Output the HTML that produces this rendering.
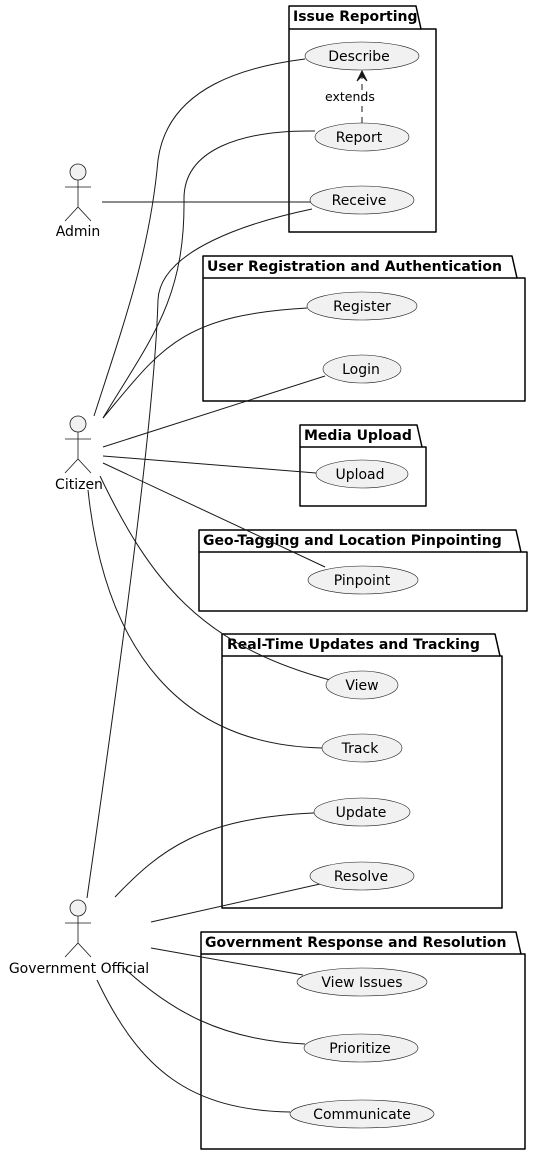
<!DOCTYPE html>
<html><head><meta charset="utf-8"><style>
html,body{margin:0;padding:0;background:#fff;}
svg{display:block;font-family:"DejaVu Sans","Liberation Sans",sans-serif;}
</style></head><body>
<svg width="533" height="1155" viewBox="0 0 533 1155" xmlns="http://www.w3.org/2000/svg">
<g fill="none" stroke="#000" stroke-width="1.5" stroke-linejoin="round">
<path d="M289,29 L289,6 L416,6 L421,29 L436,29 L436,232 L289,232 Z"/>
<line x1="289" y1="29" x2="421" y2="29"/>
<path d="M203,278 L203,256 L512,256 L517,278 L525,278 L525,401 L203,401 Z"/>
<line x1="203" y1="278" x2="517" y2="278"/>
<path d="M300,447 L300,425 L417,425 L422,447 L426,447 L426,506 L300,506 Z"/>
<line x1="300" y1="447" x2="422" y2="447"/>
<path d="M199,552 L199,530 L516,530 L521,552 L527,552 L527,611 L199,611 Z"/>
<line x1="199" y1="552" x2="521" y2="552"/>
<path d="M222,656 L222,634 L495,634 L500,656 L502,656 L502,908 L222,908 Z"/>
<line x1="222" y1="656" x2="500" y2="656"/>
<path d="M201,954 L201,932 L516,932 L521,954 L525,954 L525,1149 L201,1149 Z"/>
<line x1="201" y1="954" x2="521" y2="954"/>
</g>
<g font-weight="bold" font-size="14" fill="#000">
<text x="293" y="21">Issue Reporting</text>
<text x="207" y="271">User Registration and Authentication</text>
<text x="304" y="440">Media Upload</text>
<text x="203" y="545">Geo-Tagging and Location Pinpointing</text>
<text x="227" y="649">Real-Time Updates and Tracking</text>
<text x="205" y="947">Government Response and Resolution</text>
</g>
<g fill="none" stroke="#181818" stroke-width="1">
<path d="M102,202 L312,202"/>
<path d="M94,416 C125,320 150,250 158,160 C168,85 250,66 305,59"/>
<path d="M103,418 C150,340 185,300 184,200 C183,150 240,130 315,131"/>
<path d="M87,898 C130,600 155,400 158,300 C160,250 250,222 312,209"/>
<path d="M103,418 C160,350 180,315 307,308"/>
<path d="M103,447 L325,376"/>
<path d="M103,456 L316,473"/>
<path d="M103,463 L325,567"/>
<path d="M100,476 C150,580 200,645 330,680"/>
<path d="M88,490 C105,650 180,745 322,748"/>
<path d="M115,897 C160,850 200,818 314,813"/>
<path d="M151,922 L320,884"/>
<path d="M151,948 L303,975"/>
<path d="M124,968 C170,1010 220,1040 305,1044"/>
<path d="M97,980 C140,1070 190,1110 290,1112"/>
<path d="M362,123 L362,74" stroke-dasharray="6,5"/>
<path d="M357,81 L362,71 L367,81 L362,76 Z" fill="#181818"/>
</g>
<text x="325" y="101" font-size="12.5" fill="#000">extends</text>
<g fill="#f1f1f1" stroke="#181818" stroke-width="0.6">
<ellipse cx="362" cy="56" rx="57" ry="14"/>
<ellipse cx="362" cy="137" rx="47" ry="14"/>
<ellipse cx="362" cy="200" rx="52" ry="14"/>
<ellipse cx="362" cy="306" rx="55" ry="14"/>
<ellipse cx="362" cy="369" rx="39" ry="14"/>
<ellipse cx="362" cy="474" rx="46" ry="14"/>
<ellipse cx="363" cy="580" rx="55" ry="14"/>
<ellipse cx="362" cy="685" rx="36" ry="14"/>
<ellipse cx="362" cy="748" rx="40" ry="14"/>
<ellipse cx="362" cy="812" rx="48" ry="14"/>
<ellipse cx="362" cy="876" rx="52" ry="14"/>
<ellipse cx="362" cy="982" rx="65" ry="14"/>
<ellipse cx="361" cy="1048" rx="57" ry="14"/>
<ellipse cx="362" cy="1114" rx="72" ry="14"/>
</g>
<g font-size="14" fill="#000" text-anchor="middle">
<text x="359" y="61">Describe</text>
<text x="359" y="142">Report</text>
<text x="359" y="205">Receive</text>
<text x="362" y="311">Register</text>
<text x="361" y="374">Login</text>
<text x="360" y="479">Upload</text>
<text x="362" y="585">Pinpoint</text>
<text x="362" y="690">View</text>
<text x="360" y="753">Track</text>
<text x="361" y="817">Update</text>
<text x="361" y="881">Resolve</text>
<text x="362" y="987">View Issues</text>
<text x="360" y="1053">Prioritize</text>
<text x="362" y="1119">Communicate</text>
</g>
<g fill="#f1f1f1" stroke="#181818" stroke-width="0.8">
<g transform="translate(78,172)">
<circle cx="0" cy="0" r="8"/><path d="M0,8 L0,35 M-13,15 L13,15 M-13,49 L0,35 L13,49" fill="none"/>
</g>
<g transform="translate(78,424)">
<circle cx="0" cy="0" r="8"/><path d="M0,8 L0,35 M-13,15 L13,15 M-13,49 L0,35 L13,49" fill="none"/>
</g>
<g transform="translate(78,908)">
<circle cx="0" cy="0" r="8"/><path d="M0,8 L0,35 M-13,15 L13,15 M-13,49 L0,35 L13,49" fill="none"/>
</g>
</g>
<g font-size="14" fill="#000" text-anchor="middle">
<text x="78" y="236">Admin</text>
<text x="79" y="489">Citizen</text>
<text x="79" y="973">Government Official</text>
</g>
</svg>
</body></html>
